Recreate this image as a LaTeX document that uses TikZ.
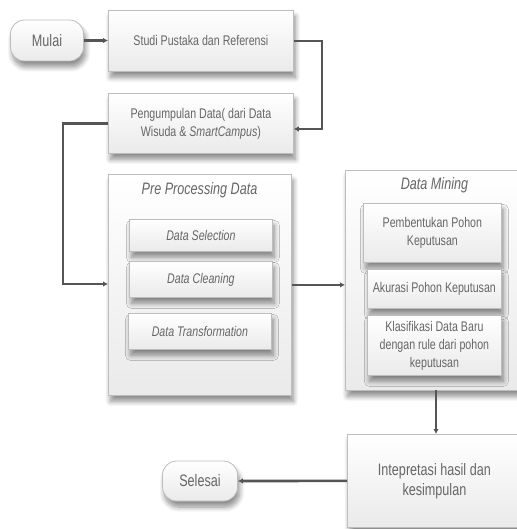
\documentclass[tikz,border=0pt]{standalone}
\usepackage{fontspec}
\setmainfont{Liberation Sans}
\newfontfamily\narrowsans[FakeStretch=0.76]{Liberation Sans}
\usetikzlibrary{arrows.meta,shadows.blur,calc}

\definecolor{textgray}{HTML}{666666}
\definecolor{edgegray}{HTML}{BDBDBD}
\definecolor{linegray}{HTML}{555555}
\definecolor{boxbottom}{HTML}{EAEAEA}

\tikzset{
  smalltext/.style={font=\narrowsans\fontsize{14}{18}\selectfont, text=textgray, align=center},
  bigtext/.style={font=\narrowsans\fontsize{16.6}{20}\selectfont, text=textgray, align=center},
  softshadow/.style={blur shadow={shadow xshift=2pt, shadow yshift=-6pt,
      shadow blur steps=8, shadow blur radius=5pt, shadow opacity=45}},
  stepbox/.style={draw=edgegray, line width=0.8pt, top color=white,
      bottom color=boxbottom, anchor=north west, inner sep=2pt,
      softshadow, smalltext},
  terminal/.style={draw=edgegray, line width=0.8pt, top color=white,
      bottom color=boxbottom, rounded corners=14pt, inner sep=2pt,
      softshadow, bigtext},
  title/.style={bigtext, font=\narrowsans\itshape\fontsize{16.6}{20}\selectfont},
  conn/.style={draw=linegray, line width=2.6pt,
      -{Latex[length=5pt,width=5.5pt]}},
}

\begin{document}
\begin{tikzpicture}[x=1pt,y=-1pt]
  \useasboundingbox (0,0) rectangle (516,529);

  % start and end terminals
  \node[terminal, minimum width=73pt, minimum height=41pt] (mulai) at (47,40.5) {Mulai};
  \node[terminal, minimum width=75pt, minimum height=40pt] (selesai) at (200,481) {Selesai};

  % first two steps
  \node[stepbox, minimum width=185pt, minimum height=61pt] (studi) at (108,10)
    {Studi Pustaka dan Referensi};
  \node[stepbox, minimum width=185pt, minimum height=60pt] (peng) at (108,93)
    {Pengumpulan Data( dari Data\\Wisuda \& \textit{SmartCampus})};

  % pre processing group
  \node[stepbox, minimum width=183pt, minimum height=221pt] (pre) at (108,174) {};
  \node[title] (pretitle) at (199.5,190) {Pre Processing Data};
  \node[stepbox, minimum width=143pt, minimum height=32pt] (sel) at (129,219)
    {\itshape Data Selection};
  \node[stepbox, minimum width=143pt, minimum height=36pt] (clean) at (129,261)
    {\itshape Data Cleaning};
  \node[stepbox, minimum width=143pt, minimum height=36pt] (trans) at (128,313)
    {\itshape Data Transformation};

  % data mining group
  \node[stepbox, minimum width=176pt, minimum height=220pt] (mining) at (345,170) {};
  \node[title] (mintitle) at (434.5,185) {Data Mining};
  \node[stepbox, minimum width=138pt, minimum height=59pt] (pohon) at (363,203)
    {Pembentukan Pohon\\Keputusan};
  \node[stepbox, minimum width=134pt, minimum height=39pt] (akurasi) at (367,269)
    {Akurasi Pohon Keputusan};
  \node[stepbox, minimum width=134pt, minimum height=60pt] (klas) at (367,315)
    {Klasifikasi Data Baru\\dengan rule dari pohon\\keputusan};

  % interpretation
  \node[stepbox, bigtext, minimum width=174pt, minimum height=93pt] (interp) at (347,434)
    {Intepretasi hasil dan\\kesimpulan};

  % bend points of the elbow connectors
  \coordinate (bendA) at (322,129);
  \coordinate (bendB) at (63,284);
  \coordinate (minout) at (436,390);

  % connectors
  \draw[conn] (mulai.east) -- (studi.west |- mulai.east);
  \draw[conn] (studi.east) -| (bendA) -- (peng.east |- bendA);
  \draw[conn] (peng.west) -| (bendB) -- (pre.west |- bendB);
  \draw[conn] (pre.east) -- (pre.east -| mining.west);
  \draw[conn] (minout) -- (minout |- interp.north);
  \draw[conn] (interp.west) -- (selesai.east);
\end{tikzpicture}
\end{document}
